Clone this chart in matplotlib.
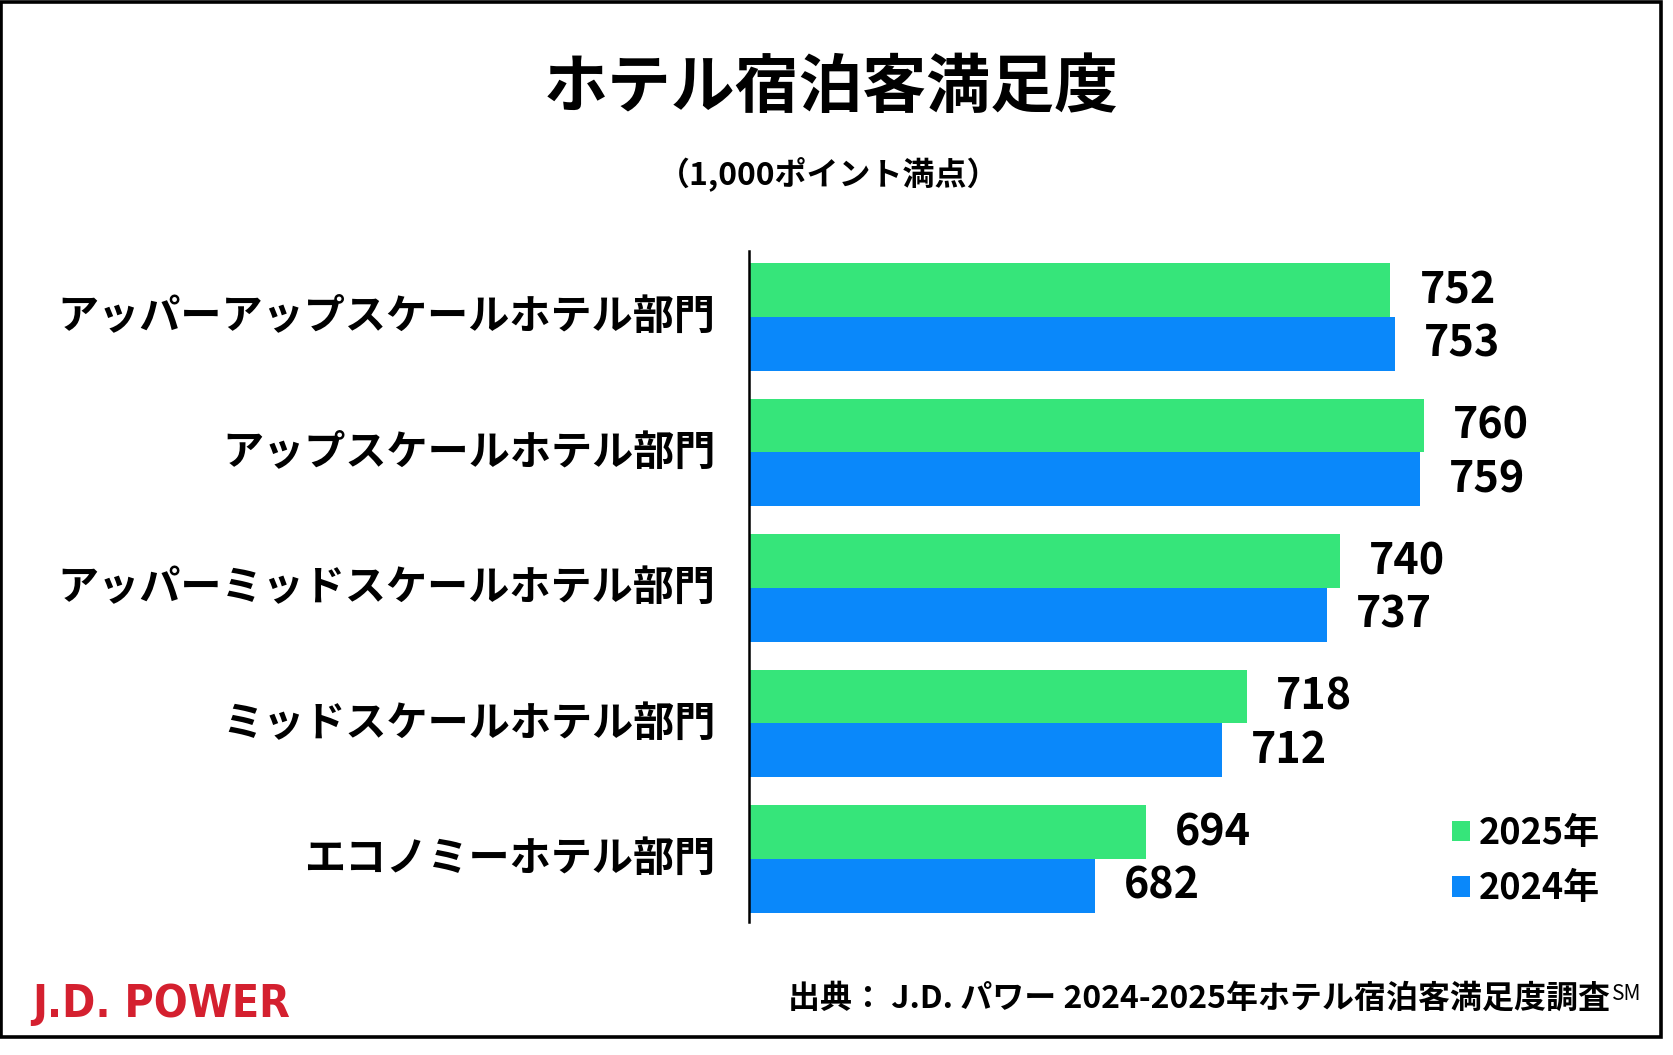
import numpy as np
import matplotlib
matplotlib.use("Agg")
import matplotlib.pyplot as plt
from matplotlib.patches import Rectangle

plt.rcParams["font.family"] = ["Noto Sans CJK JP", "DejaVu Sans"]

categories = [
    "アッパーアップスケールホテル部門",
    "アップスケールホテル部門",
    "アッパーミッドスケールホテル部門",
    "ミッドスケールホテル部門",
    "エコノミーホテル部門",
]
scores_2025 = [752, 760, 740, 718, 694]
scores_2024 = [753, 759, 737, 712, 682]
series_labels = ["2025年", "2024年"]

title = "ホテル宿泊客満足度"
subtitle = "（1,000ポイント満点）"
source = "出典： J.D. パワー 2024-2025年ホテル宿泊客満足度調査"

GREEN = "#36E57A"
BLUE = "#0A88FA"
W, H = 1674, 1055

fig = plt.figure(figsize=(W / 100, H / 100), dpi=100)
fig.patch.set_facecolor("white")

# axes placed in pixel terms of the reference
left, right = 749 / W, 1593 / W
bottom, top = 1 - 922 / H, 1 - 251 / H
ax = fig.add_axes([left, bottom, right - left, top - bottom])

y = np.arange(len(categories))
h = 0.398
bars25 = ax.barh(y - h / 2, scores_2025, height=h, color=GREEN, label=series_labels[0])
bars24 = ax.barh(y + h / 2, scores_2024, height=h, color=BLUE, label=series_labels[1])

ax.set_xlim(600, 800)
ax.set_ylim(len(categories) - 1 + 0.465, -0.487)

for b in (bars25, bars24):
    ax.bar_label(b, padding=21, fontsize=31, fontweight="bold")

ax.set_yticks(y)
ax.set_yticklabels(categories, fontsize=29.6, fontweight="bold")
for t in ax.get_yticklabels():
    t.set_va("center")
ax.tick_params(axis="y", length=0, pad=24)
ax.set_xticks([])
for side in ("top", "right", "bottom"):
    ax.spines[side].set_visible(False)
ax.spines["left"].set_linewidth(1.8)
ax.spines["left"].set_color("black")

leg = ax.legend(
    loc="center left",
    bbox_to_anchor=(1452 / W, 1 - 861 / H),
    bbox_transform=fig.transFigure,
    frameon=False,
    handlelength=0.5,
    handleheight=0.5,
    handletextpad=0.25,
    labelspacing=0.5,
    borderpad=0,
    borderaxespad=0,
    prop={"weight": "bold", "size": 26},
)

fig.text(0.4965, 1 - 88 / H, title, ha="center", va="center", fontsize=46, fontweight="bold")
fig.text(829 / W, 1 - 175 / H, subtitle, ha="center", va="center", fontsize=23, fontweight="bold")

fig.text(32 / W, 1 - 1004 / H, "J.D. POWER", ha="left", va="center", fontsize=32,
         fontweight="bold", fontstretch="condensed", color="#D4202F",
         family=["DejaVu Sans"])
fig.text(1610 / W, 1 - 999 / H, source, ha="right", va="center", fontsize=23, fontweight="bold")
fig.text(1612 / W, 1 - 983 / H, "SM", ha="left", va="top", fontsize=15)

fig.patches.append(Rectangle((1.5 / W, 1 - 1037 / H), (1661 - 1.5) / W, (1037 - 1.5) / H,
                             transform=fig.transFigure, fill=False, edgecolor="black",
                             linewidth=2.6))

fig.savefig("out.png", dpi=100, facecolor="white")
